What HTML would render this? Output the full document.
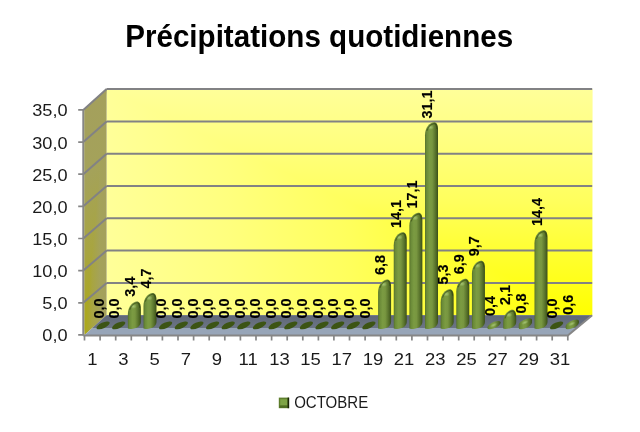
<!DOCTYPE html><html><head><meta charset="utf-8"><style>
html,body{margin:0;padding:0;background:#fff;width:640px;height:432px;overflow:hidden}
svg{display:block;will-change:transform}
text{font-family:"Liberation Sans",sans-serif}
</style></head><body>
<svg width="640" height="432" viewBox="0 0 640 432">
<defs>
<linearGradient id="gH" gradientUnits="userSpaceOnUse" x1="592.2" y1="0" x2="106.6" y2="0"><stop offset="0" stop-color="#ffff00"/><stop offset="0.25" stop-color="#ffff2c"/><stop offset="0.5" stop-color="#ffff5c"/><stop offset="0.75" stop-color="#ffff7e"/><stop offset="1" stop-color="#ffff99"/></linearGradient>
<linearGradient id="gV" gradientUnits="userSpaceOnUse" x1="0" y1="315.2" x2="0" y2="89.0"><stop offset="0" stop-color="#ffff00"/><stop offset="0.25" stop-color="#ffff2c"/><stop offset="0.5" stop-color="#ffff5c"/><stop offset="0.75" stop-color="#ffff7e"/><stop offset="1" stop-color="#ffff99"/></linearGradient>
<linearGradient id="gLd" gradientUnits="userSpaceOnUse" x1="0" y1="0" x2="1" y2="0" gradientTransform="matrix(22.100 -19.700 0 -224.980 84.500 334.900)"><stop offset="0" stop-color="#aca814"/><stop offset="0.35" stop-color="#a8a540"/><stop offset="0.7" stop-color="#a4a25a"/><stop offset="1" stop-color="#a4a05c"/></linearGradient>
<linearGradient id="gLh" gradientUnits="userSpaceOnUse" x1="0" y1="0" x2="0" y2="1" gradientTransform="matrix(22.100 -19.700 0 -224.980 84.500 334.900)"><stop offset="0" stop-color="#aca814"/><stop offset="0.35" stop-color="#a8a540"/><stop offset="0.7" stop-color="#a4a25a"/><stop offset="1" stop-color="#a4a05c"/></linearGradient>
<linearGradient id="gBar" x1="0" y1="0" x2="1" y2="0">
<stop offset="0" stop-color="#56702a"/><stop offset="0.12" stop-color="#6a8a38"/><stop offset="0.35" stop-color="#7b9b42"/><stop offset="0.55" stop-color="#789640"/><stop offset="0.75" stop-color="#5f7a30"/><stop offset="0.9" stop-color="#4a6222"/><stop offset="1" stop-color="#3a4c18"/></linearGradient>
<linearGradient id="gFloorD" x1="0" y1="0" x2="0" y2="1"><stop offset="0" stop-color="#5f6777"/><stop offset="1" stop-color="#6b7484"/></linearGradient>
<radialGradient id="gHi" cx="0.5" cy="0.5" r="0.5"><stop offset="0" stop-color="#a8c878" stop-opacity="0.9"/><stop offset="1" stop-color="#a8c878" stop-opacity="0"/></radialGradient>
</defs>
<text x="319.2" y="46.6" text-anchor="middle" font-weight="bold" font-size="30.5" fill="#000" textLength="388" lengthAdjust="spacingAndGlyphs">Précipitations quotidiennes</text>
<rect x="106.6" y="89.0" width="485.6" height="226.2" fill="url(#gH)"/>
<polygon points="106.6,89.0 592.2,89.0 592.2,315.2" fill="url(#gV)"/>
<polygon points="84.5,109.9 106.6,89.0 106.6,315.2 84.5,334.9" fill="url(#gLd)"/>
<polygon points="84.5,109.9 106.6,89.0 84.5,334.9" fill="url(#gLh)"/>
<polygon points="84.5,334.9 567.8,334.9 592.2,315.2 106.6,315.2" fill="#97a5b8"/>
<polygon points="92.3,327.9 576.5,327.9 592.2,315.2 106.6,315.2" fill="url(#gFloorD)"/>
<path d="M106.6 282.9L592.2 282.9M83.3 302.8L106.6 282.9M106.6 250.6L592.2 250.6M83.3 270.6L106.6 250.6M106.6 218.3L592.2 218.3M83.3 238.5L106.6 218.3M106.6 186.0L592.2 186.0M83.3 206.3L106.6 186.0M106.6 153.7L592.2 153.7M83.3 174.2L106.6 153.7M106.6 121.4L592.2 121.4M83.3 142.1L106.6 121.4M106.6 89.1L592.2 89.1M83.3 109.9L106.6 89.1" stroke="#828284" stroke-width="2" fill="none"/>
<path d="M83.3 109.9L83.3 335.4M83.3 335.4L567.8 335.4L592.2 315.2" stroke="#868686" stroke-width="2" fill="none"/>
<path d="M78.2 334.9L83.3 334.9M78.2 302.8L83.3 302.8M78.2 270.6L83.3 270.6M78.2 238.5L83.3 238.5M78.2 206.3L83.3 206.3M78.2 174.2L83.3 174.2M78.2 142.1L83.3 142.1M78.2 109.9L83.3 109.9M84.5 334.9L84.5 340.6M100.1 334.9L100.1 340.6M115.7 334.9L115.7 340.6M131.3 334.9L131.3 340.6M146.9 334.9L146.9 340.6M162.4 334.9L162.4 340.6M178.0 334.9L178.0 340.6M193.6 334.9L193.6 340.6M209.2 334.9L209.2 340.6M224.8 334.9L224.8 340.6M240.4 334.9L240.4 340.6M256.0 334.9L256.0 340.6M271.6 334.9L271.6 340.6M287.2 334.9L287.2 340.6M302.8 334.9L302.8 340.6M318.4 334.9L318.4 340.6M333.9 334.9L333.9 340.6M349.5 334.9L349.5 340.6M365.1 334.9L365.1 340.6M380.7 334.9L380.7 340.6M396.3 334.9L396.3 340.6M411.9 334.9L411.9 340.6M427.5 334.9L427.5 340.6M443.1 334.9L443.1 340.6M458.7 334.9L458.7 340.6M474.2 334.9L474.2 340.6M489.8 334.9L489.8 340.6M505.4 334.9L505.4 340.6M521.0 334.9L521.0 340.6M536.6 334.9L536.6 340.6M552.2 334.9L552.2 340.6M567.8 334.9L567.8 340.6" stroke="#868686" stroke-width="1.7" fill="none"/>
<ellipse cx="103.1" cy="325.4" rx="7.2" ry="2.8" transform="rotate(-25 103.1 325.4)" fill="#3c5414"/>
<ellipse cx="118.7" cy="325.4" rx="7.2" ry="2.8" transform="rotate(-25 118.7 325.4)" fill="#3c5414"/>
<path d="M127.85 328.50 L127.85 314.42 C127.85 306.42 132.85 301.42 136.85 301.42 C139.35 301.42 140.85 303.92 140.85 308.42 L140.85 322.00 C140.85 326.50 135.35 329.00 129.85 329.00 L127.85 328.50 Z" fill="url(#gBar)"/>
<ellipse cx="133.3" cy="306.4" rx="3.5" ry="2.5" fill="url(#gHi)"/>
<path d="M129.65 309.92 C131.35 304.92 134.35 303.02 136.85 302.72 C138.35 302.62 139.55 304.42 139.85 307.92" stroke="#2c3c0c" stroke-width="1.1" stroke-opacity="0.55" fill="none"/>
<path d="M143.49 328.50 L143.49 306.02 C143.49 298.02 148.49 293.02 152.49 293.02 C154.99 293.02 156.49 295.52 156.49 300.02 L156.49 322.00 C156.49 326.50 150.99 329.00 145.49 329.00 L143.49 328.50 Z" fill="url(#gBar)"/>
<ellipse cx="149.0" cy="298.0" rx="3.5" ry="2.5" fill="url(#gHi)"/>
<path d="M145.29 301.52 C146.99 296.52 149.99 294.62 152.49 294.32 C153.99 294.22 155.19 296.02 155.49 299.52" stroke="#2c3c0c" stroke-width="1.1" stroke-opacity="0.55" fill="none"/>
<ellipse cx="165.6" cy="325.4" rx="7.2" ry="2.8" transform="rotate(-25 165.6 325.4)" fill="#3c5414"/>
<ellipse cx="181.3" cy="325.4" rx="7.2" ry="2.8" transform="rotate(-25 181.3 325.4)" fill="#3c5414"/>
<ellipse cx="196.9" cy="325.4" rx="7.2" ry="2.8" transform="rotate(-25 196.9 325.4)" fill="#3c5414"/>
<ellipse cx="212.6" cy="325.4" rx="7.2" ry="2.8" transform="rotate(-25 212.6 325.4)" fill="#3c5414"/>
<ellipse cx="228.2" cy="325.4" rx="7.2" ry="2.8" transform="rotate(-25 228.2 325.4)" fill="#3c5414"/>
<ellipse cx="243.8" cy="325.4" rx="7.2" ry="2.8" transform="rotate(-25 243.8 325.4)" fill="#3c5414"/>
<ellipse cx="259.5" cy="325.4" rx="7.2" ry="2.8" transform="rotate(-25 259.5 325.4)" fill="#3c5414"/>
<ellipse cx="275.1" cy="325.4" rx="7.2" ry="2.8" transform="rotate(-25 275.1 325.4)" fill="#3c5414"/>
<ellipse cx="290.8" cy="325.4" rx="7.2" ry="2.8" transform="rotate(-25 290.8 325.4)" fill="#3c5414"/>
<ellipse cx="306.4" cy="325.4" rx="7.2" ry="2.8" transform="rotate(-25 306.4 325.4)" fill="#3c5414"/>
<ellipse cx="322.0" cy="325.4" rx="7.2" ry="2.8" transform="rotate(-25 322.0 325.4)" fill="#3c5414"/>
<ellipse cx="337.7" cy="325.4" rx="7.2" ry="2.8" transform="rotate(-25 337.7 325.4)" fill="#3c5414"/>
<ellipse cx="353.3" cy="325.4" rx="7.2" ry="2.8" transform="rotate(-25 353.3 325.4)" fill="#3c5414"/>
<ellipse cx="368.9" cy="325.4" rx="7.2" ry="2.8" transform="rotate(-25 368.9 325.4)" fill="#3c5414"/>
<path d="M378.09 328.50 L378.09 292.44 C378.09 284.44 383.09 279.44 387.09 279.44 C389.59 279.44 391.09 281.94 391.09 286.44 L391.09 322.00 C391.09 326.50 385.59 329.00 380.09 329.00 L378.09 328.50 Z" fill="url(#gBar)"/>
<ellipse cx="383.6" cy="284.4" rx="3.5" ry="2.5" fill="url(#gHi)"/>
<path d="M379.89 287.94 C381.59 282.94 384.59 281.04 387.09 280.74 C388.59 280.64 389.79 282.44 390.09 285.94" stroke="#2c3c0c" stroke-width="1.1" stroke-opacity="0.55" fill="none"/>
<path d="M393.73 328.50 L393.73 245.26 C393.73 237.26 398.73 232.26 402.73 232.26 C405.23 232.26 406.73 234.76 406.73 239.26 L406.73 322.00 C406.73 326.50 401.23 329.00 395.73 329.00 L393.73 328.50 Z" fill="url(#gBar)"/>
<ellipse cx="399.2" cy="237.3" rx="3.5" ry="2.5" fill="url(#gHi)"/>
<path d="M395.53 240.76 C397.23 235.76 400.23 233.86 402.73 233.56 C404.23 233.46 405.43 235.26 405.73 238.76" stroke="#2c3c0c" stroke-width="1.1" stroke-opacity="0.55" fill="none"/>
<path d="M409.37 328.50 L409.37 225.87 C409.37 217.87 414.37 212.87 418.37 212.87 C420.87 212.87 422.37 215.37 422.37 219.87 L422.37 322.00 C422.37 326.50 416.87 329.00 411.37 329.00 L409.37 328.50 Z" fill="url(#gBar)"/>
<ellipse cx="414.9" cy="217.9" rx="3.5" ry="2.5" fill="url(#gHi)"/>
<path d="M411.17 221.37 C412.87 216.37 415.87 214.47 418.37 214.17 C419.87 214.07 421.07 215.87 421.37 219.37" stroke="#2c3c0c" stroke-width="1.1" stroke-opacity="0.55" fill="none"/>
<path d="M425.01 328.50 L425.01 135.37 C425.01 127.37 430.01 122.37 434.01 122.37 C436.51 122.37 438.01 124.87 438.01 129.37 L438.01 322.00 C438.01 326.50 432.51 329.00 427.01 329.00 L425.01 328.50 Z" fill="url(#gBar)"/>
<ellipse cx="430.5" cy="127.4" rx="3.5" ry="2.5" fill="url(#gHi)"/>
<path d="M426.81 130.87 C428.51 125.87 431.51 123.97 434.01 123.67 C435.51 123.57 436.71 125.37 437.01 128.87" stroke="#2c3c0c" stroke-width="1.1" stroke-opacity="0.55" fill="none"/>
<path d="M440.65 328.50 L440.65 302.14 C440.65 294.14 445.65 289.14 449.65 289.14 C452.15 289.14 453.65 291.64 453.65 296.14 L453.65 322.00 C453.65 326.50 448.15 329.00 442.65 329.00 L440.65 328.50 Z" fill="url(#gBar)"/>
<ellipse cx="446.2" cy="294.1" rx="3.5" ry="2.5" fill="url(#gHi)"/>
<path d="M442.45 297.64 C444.15 292.64 447.15 290.74 449.65 290.44 C451.15 290.34 452.35 292.14 452.65 295.64" stroke="#2c3c0c" stroke-width="1.1" stroke-opacity="0.55" fill="none"/>
<path d="M456.29 328.50 L456.29 291.80 C456.29 283.80 461.29 278.80 465.29 278.80 C467.79 278.80 469.29 281.30 469.29 285.80 L469.29 322.00 C469.29 326.50 463.79 329.00 458.29 329.00 L456.29 328.50 Z" fill="url(#gBar)"/>
<ellipse cx="461.8" cy="283.8" rx="3.5" ry="2.5" fill="url(#gHi)"/>
<path d="M458.09 287.30 C459.79 282.30 462.79 280.40 465.29 280.10 C466.79 280.00 467.99 281.80 468.29 285.30" stroke="#2c3c0c" stroke-width="1.1" stroke-opacity="0.55" fill="none"/>
<path d="M471.93 328.50 L471.93 273.70 C471.93 265.70 476.93 260.70 480.93 260.70 C483.43 260.70 484.93 263.20 484.93 267.70 L484.93 322.00 C484.93 326.50 479.43 329.00 473.93 329.00 L471.93 328.50 Z" fill="url(#gBar)"/>
<ellipse cx="477.4" cy="265.7" rx="3.5" ry="2.5" fill="url(#gHi)"/>
<path d="M473.73 269.20 C475.43 264.20 478.43 262.30 480.93 262.00 C482.43 261.90 483.63 263.70 483.93 267.20" stroke="#2c3c0c" stroke-width="1.1" stroke-opacity="0.55" fill="none"/>
<path d="M487.44 327.94 L487.44 327.32 A7.20 2.80 -25 0 1 500.70 322.24 L500.70 322.86 A7.20 2.80 -25 0 1 487.44 327.94 Z" fill="url(#gBar)"/>
<ellipse cx="493.6" cy="325.1" rx="4" ry="1.8" transform="rotate(-25 493.6 325.1)" fill="url(#gHi)"/>
<path d="M503.21 328.50 L503.21 322.83 C503.21 314.83 508.21 309.83 512.21 309.83 C514.71 309.83 516.21 312.33 516.21 316.83 L516.21 322.00 C516.21 326.50 510.71 329.00 505.21 329.00 L503.21 328.50 Z" fill="url(#gBar)"/>
<ellipse cx="508.7" cy="314.8" rx="3.5" ry="2.5" fill="url(#gHi)"/>
<path d="M505.01 318.33 C506.71 313.33 509.71 311.43 512.21 311.13 C513.71 311.03 514.91 312.83 515.21 316.33" stroke="#2c3c0c" stroke-width="1.1" stroke-opacity="0.55" fill="none"/>
<path d="M518.72 327.94 L518.72 324.73 A7.20 2.80 -25 0 1 531.98 319.65 L531.98 322.86 A7.20 2.80 -25 0 1 518.72 327.94 Z" fill="url(#gBar)"/>
<ellipse cx="524.9" cy="322.5" rx="4" ry="1.8" transform="rotate(-25 524.9 322.5)" fill="url(#gHi)"/>
<path d="M534.49 328.50 L534.49 243.32 C534.49 235.32 539.49 230.32 543.49 230.32 C545.99 230.32 547.49 232.82 547.49 237.32 L547.49 322.00 C547.49 326.50 541.99 329.00 536.49 329.00 L534.49 328.50 Z" fill="url(#gBar)"/>
<ellipse cx="540.0" cy="235.3" rx="3.5" ry="2.5" fill="url(#gHi)"/>
<path d="M536.29 238.82 C537.99 233.82 540.99 231.92 543.49 231.62 C544.99 231.52 546.19 233.32 546.49 236.82" stroke="#2c3c0c" stroke-width="1.1" stroke-opacity="0.55" fill="none"/>
<ellipse cx="556.6" cy="325.4" rx="7.2" ry="2.8" transform="rotate(-25 556.6 325.4)" fill="#3c5414"/>
<path d="M565.64 327.94 L565.64 326.02 A7.20 2.80 -25 0 1 578.90 320.94 L578.90 322.86 A7.20 2.80 -25 0 1 565.64 327.94 Z" fill="url(#gBar)"/>
<ellipse cx="571.8" cy="323.8" rx="4" ry="1.8" transform="rotate(-25 571.8 323.8)" fill="url(#gHi)"/>
<text transform="translate(103.8 318.6) rotate(-90)" font-weight="bold" font-size="14.4" fill="#000" stroke="#000" stroke-width="0.15">0,0</text>
<text transform="translate(119.4 318.6) rotate(-90)" font-weight="bold" font-size="14.4" fill="#000" stroke="#000" stroke-width="0.15">0,0</text>
<text transform="translate(135.0 296.7) rotate(-90)" font-weight="bold" font-size="14.4" fill="#000" stroke="#000" stroke-width="0.15">3,4</text>
<text transform="translate(150.7 288.4) rotate(-90)" font-weight="bold" font-size="14.4" fill="#000" stroke="#000" stroke-width="0.15">4,7</text>
<text transform="translate(166.3 318.6) rotate(-90)" font-weight="bold" font-size="14.4" fill="#000" stroke="#000" stroke-width="0.15">0,0</text>
<text transform="translate(182.0 318.6) rotate(-90)" font-weight="bold" font-size="14.4" fill="#000" stroke="#000" stroke-width="0.15">0,0</text>
<text transform="translate(197.6 318.6) rotate(-90)" font-weight="bold" font-size="14.4" fill="#000" stroke="#000" stroke-width="0.15">0,0</text>
<text transform="translate(213.2 318.6) rotate(-90)" font-weight="bold" font-size="14.4" fill="#000" stroke="#000" stroke-width="0.15">0,0</text>
<text transform="translate(228.9 318.6) rotate(-90)" font-weight="bold" font-size="14.4" fill="#000" stroke="#000" stroke-width="0.15">0,0</text>
<text transform="translate(244.5 318.6) rotate(-90)" font-weight="bold" font-size="14.4" fill="#000" stroke="#000" stroke-width="0.15">0,0</text>
<text transform="translate(260.2 318.6) rotate(-90)" font-weight="bold" font-size="14.4" fill="#000" stroke="#000" stroke-width="0.15">0,0</text>
<text transform="translate(275.8 318.6) rotate(-90)" font-weight="bold" font-size="14.4" fill="#000" stroke="#000" stroke-width="0.15">0,0</text>
<text transform="translate(291.4 318.6) rotate(-90)" font-weight="bold" font-size="14.4" fill="#000" stroke="#000" stroke-width="0.15">0,0</text>
<text transform="translate(307.1 318.6) rotate(-90)" font-weight="bold" font-size="14.4" fill="#000" stroke="#000" stroke-width="0.15">0,0</text>
<text transform="translate(322.7 318.6) rotate(-90)" font-weight="bold" font-size="14.4" fill="#000" stroke="#000" stroke-width="0.15">0,0</text>
<text transform="translate(338.4 318.6) rotate(-90)" font-weight="bold" font-size="14.4" fill="#000" stroke="#000" stroke-width="0.15">0,0</text>
<text transform="translate(354.0 318.6) rotate(-90)" font-weight="bold" font-size="14.4" fill="#000" stroke="#000" stroke-width="0.15">0,0</text>
<text transform="translate(369.6 318.6) rotate(-90)" font-weight="bold" font-size="14.4" fill="#000" stroke="#000" stroke-width="0.15">0,0</text>
<text transform="translate(385.3 274.9) rotate(-90)" font-weight="bold" font-size="14.4" fill="#000" stroke="#000" stroke-width="0.15">6,8</text>
<text transform="translate(400.9 227.9) rotate(-90)" font-weight="bold" font-size="14.4" fill="#000" stroke="#000" stroke-width="0.15">14,1</text>
<text transform="translate(416.6 208.6) rotate(-90)" font-weight="bold" font-size="14.4" fill="#000" stroke="#000" stroke-width="0.15">17,1</text>
<text transform="translate(432.2 118.6) rotate(-90)" font-weight="bold" font-size="14.4" fill="#000" stroke="#000" stroke-width="0.15">31,1</text>
<text transform="translate(447.9 284.5) rotate(-90)" font-weight="bold" font-size="14.4" fill="#000" stroke="#000" stroke-width="0.15">5,3</text>
<text transform="translate(463.5 274.2) rotate(-90)" font-weight="bold" font-size="14.4" fill="#000" stroke="#000" stroke-width="0.15">6,9</text>
<text transform="translate(479.1 256.2) rotate(-90)" font-weight="bold" font-size="14.4" fill="#000" stroke="#000" stroke-width="0.15">9,7</text>
<text transform="translate(494.8 316.0) rotate(-90)" font-weight="bold" font-size="14.4" fill="#000" stroke="#000" stroke-width="0.15">0,4</text>
<text transform="translate(510.4 305.1) rotate(-90)" font-weight="bold" font-size="14.4" fill="#000" stroke="#000" stroke-width="0.15">2,1</text>
<text transform="translate(526.1 313.5) rotate(-90)" font-weight="bold" font-size="14.4" fill="#000" stroke="#000" stroke-width="0.15">0,8</text>
<text transform="translate(541.7 226.0) rotate(-90)" font-weight="bold" font-size="14.4" fill="#000" stroke="#000" stroke-width="0.15">14,4</text>
<text transform="translate(557.3 318.6) rotate(-90)" font-weight="bold" font-size="14.4" fill="#000" stroke="#000" stroke-width="0.15">0,0</text>
<text transform="translate(573.0 314.7) rotate(-90)" font-weight="bold" font-size="14.4" fill="#000" stroke="#000" stroke-width="0.15">0,6</text>
<text transform="translate(67.6 341.4) scale(1.07 1)" text-anchor="end" font-size="17" fill="#1a1a1a">0,0</text>
<text transform="translate(67.6 309.3) scale(1.07 1)" text-anchor="end" font-size="17" fill="#1a1a1a">5,0</text>
<text transform="translate(67.6 277.1) scale(1.07 1)" text-anchor="end" font-size="17" fill="#1a1a1a">10,0</text>
<text transform="translate(67.6 245.0) scale(1.07 1)" text-anchor="end" font-size="17" fill="#1a1a1a">15,0</text>
<text transform="translate(67.6 212.8) scale(1.07 1)" text-anchor="end" font-size="17" fill="#1a1a1a">20,0</text>
<text transform="translate(67.6 180.7) scale(1.07 1)" text-anchor="end" font-size="17" fill="#1a1a1a">25,0</text>
<text transform="translate(67.6 148.6) scale(1.07 1)" text-anchor="end" font-size="17" fill="#1a1a1a">30,0</text>
<text transform="translate(67.6 116.4) scale(1.07 1)" text-anchor="end" font-size="17" fill="#1a1a1a">35,0</text>
<text transform="translate(92.3 365.3) scale(1.12 1)" text-anchor="middle" font-size="16.5" fill="#1a1a1a">1</text>
<text transform="translate(123.5 365.3) scale(1.12 1)" text-anchor="middle" font-size="16.5" fill="#1a1a1a">3</text>
<text transform="translate(154.7 365.3) scale(1.12 1)" text-anchor="middle" font-size="16.5" fill="#1a1a1a">5</text>
<text transform="translate(185.8 365.3) scale(1.12 1)" text-anchor="middle" font-size="16.5" fill="#1a1a1a">7</text>
<text transform="translate(217.0 365.3) scale(1.12 1)" text-anchor="middle" font-size="16.5" fill="#1a1a1a">9</text>
<text transform="translate(248.2 365.3) scale(1.12 1)" text-anchor="middle" font-size="16.5" fill="#1a1a1a">11</text>
<text transform="translate(279.4 365.3) scale(1.12 1)" text-anchor="middle" font-size="16.5" fill="#1a1a1a">13</text>
<text transform="translate(310.6 365.3) scale(1.12 1)" text-anchor="middle" font-size="16.5" fill="#1a1a1a">15</text>
<text transform="translate(341.7 365.3) scale(1.12 1)" text-anchor="middle" font-size="16.5" fill="#1a1a1a">17</text>
<text transform="translate(372.9 365.3) scale(1.12 1)" text-anchor="middle" font-size="16.5" fill="#1a1a1a">19</text>
<text transform="translate(404.1 365.3) scale(1.12 1)" text-anchor="middle" font-size="16.5" fill="#1a1a1a">21</text>
<text transform="translate(435.3 365.3) scale(1.12 1)" text-anchor="middle" font-size="16.5" fill="#1a1a1a">23</text>
<text transform="translate(466.5 365.3) scale(1.12 1)" text-anchor="middle" font-size="16.5" fill="#1a1a1a">25</text>
<text transform="translate(497.6 365.3) scale(1.12 1)" text-anchor="middle" font-size="16.5" fill="#1a1a1a">27</text>
<text transform="translate(528.8 365.3) scale(1.12 1)" text-anchor="middle" font-size="16.5" fill="#1a1a1a">29</text>
<text transform="translate(560.0 365.3) scale(1.12 1)" text-anchor="middle" font-size="16.5" fill="#1a1a1a">31</text>
<rect x="278.8" y="397.6" width="10.2" height="10.6" fill="#5e7e2c"/>
<rect x="280.2" y="399.2" width="7.2" height="6.2" fill="#7ea446"/>
<rect x="279.5" y="405.6" width="8.5" height="2.2" fill="#4e6c22"/>
<rect x="287.6" y="397.6" width="1.6" height="10.6" fill="#1a2606"/>
<text x="294.2" y="408.3" font-size="16.5" fill="#1a1a1a" textLength="74" lengthAdjust="spacingAndGlyphs">OCTOBRE</text>
</svg></body></html>
